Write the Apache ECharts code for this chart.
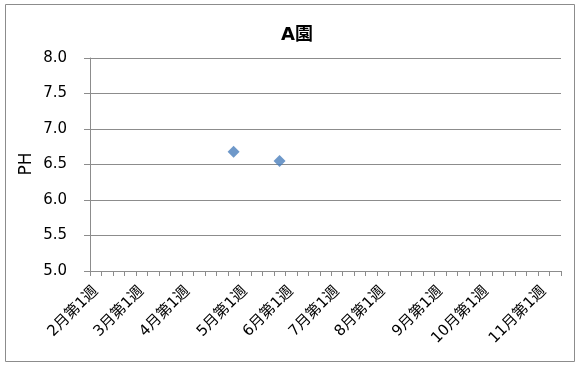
<!DOCTYPE html>
<html>
<head>
<meta charset="utf-8">
<script src="https://cdn.jsdelivr.net/npm/echarts@6/dist/echarts.min.js"></script>
<style>
  html, body { margin: 0; padding: 0; background: #fff; }
  #chart { width: 577px; height: 365px; }
</style>
</head>
<body>
<div id="chart"></div>
<script>
// Weekly categories, February through early November
const weeks = [
  '2月第1週', '2月第2週', '2月第3週', '2月第4週',
  '3月第1週', '3月第2週', '3月第3週', '3月第4週',
  '4月第1週', '4月第2週', '4月第3週', '4月第4週', '4月第5週',
  '5月第1週', '5月第2週', '5月第3週', '5月第4週',
  '6月第1週', '6月第2週', '6月第3週', '6月第4週',
  '7月第1週', '7月第2週', '7月第3週', '7月第4週',
  '8月第1週', '8月第2週', '8月第3週', '8月第4週', '8月第5週',
  '9月第1週', '9月第2週', '9月第3週', '9月第4週',
  '10月第1週', '10月第2週', '10月第3週', '10月第4週', '10月第5週',
  '11月第1週', '11月第2週'
];

// Measured pH readings [week, value]
const phWeeks = ['4月第5週', '5月第4週'];
const phValues = [6.68, 6.55];

// Value axis ticks
const yMin = 5.0;
const yMax = 8.0;
const yStep = 0.5;

const fontFamily = '"DejaVu Sans", "Noto Sans CJK JP", sans-serif';
const axisGray = '#8c8c8c';

const chart = echarts.init(document.getElementById('chart'), null, { renderer: 'canvas' });

chart.setOption({
  animation: false,
  backgroundColor: '#ffffff',
  title: {
    text: 'A園',
    left: 276,
    top: 21,
    textStyle: { fontFamily: fontFamily, fontSize: 18, fontWeight: 'bold', color: '#000' }
  },
  graphic: [{
    type: 'rect',
    shape: { x: 5.5, y: 4.5, width: 569, height: 357 },
    style: { fill: 'none', stroke: '#8c8c8c', lineWidth: 1 },
    silent: true
  }, {
    // vertical value-axis title
    type: 'text',
    x: 27,
    y: 164,
    rotation: Math.PI / 2,
    style: {
      text: 'PH',
      fontFamily: fontFamily,
      fontSize: 17,
      fill: '#000',
      align: 'center',
      verticalAlign: 'middle'
    },
    silent: true
  }],
  grid: { left: 90, right: 16, top: 58, bottom: 94 },
  xAxis: {
    type: 'category',
    data: weeks,
    boundaryGap: true,
    axisLine: { lineStyle: { color: axisGray, width: 1 } },
    axisTick: { show: true, interval: 0, length: 5, lineStyle: { color: axisGray } },
    axisLabel: {
      interval: 0,
      rotate: 45,
      margin: 18,
      fontFamily: fontFamily,
      fontSize: 15,
      color: '#000',
      formatter: function (v) { return v.indexOf('第1週') >= 0 ? v : ''; }
    },
    splitLine: { show: false }
  },
  yAxis: {
    type: 'value',
    min: yMin,
    max: yMax,
    interval: yStep,
    axisLine: { show: true, lineStyle: { color: axisGray, width: 1 } },
    axisTick: { show: true, length: 6, lineStyle: { color: axisGray } },
    axisLabel: {
      margin: 23,
      fontFamily: fontFamily,
      fontSize: 15,
      color: '#000',
      formatter: function (v) { return v.toFixed(1); }
    },
    splitLine: { show: true, lineStyle: { color: axisGray, width: 1 } }
  },
  series: [{
    type: 'scatter',
    symbol: 'diamond',
    symbolSize: 12,
    itemStyle: { color: '#4A7EBB' },
    data: phWeeks.map(function (w, i) { return [w, phValues[i]]; })
  }]
});
</script>
</body>
</html>
